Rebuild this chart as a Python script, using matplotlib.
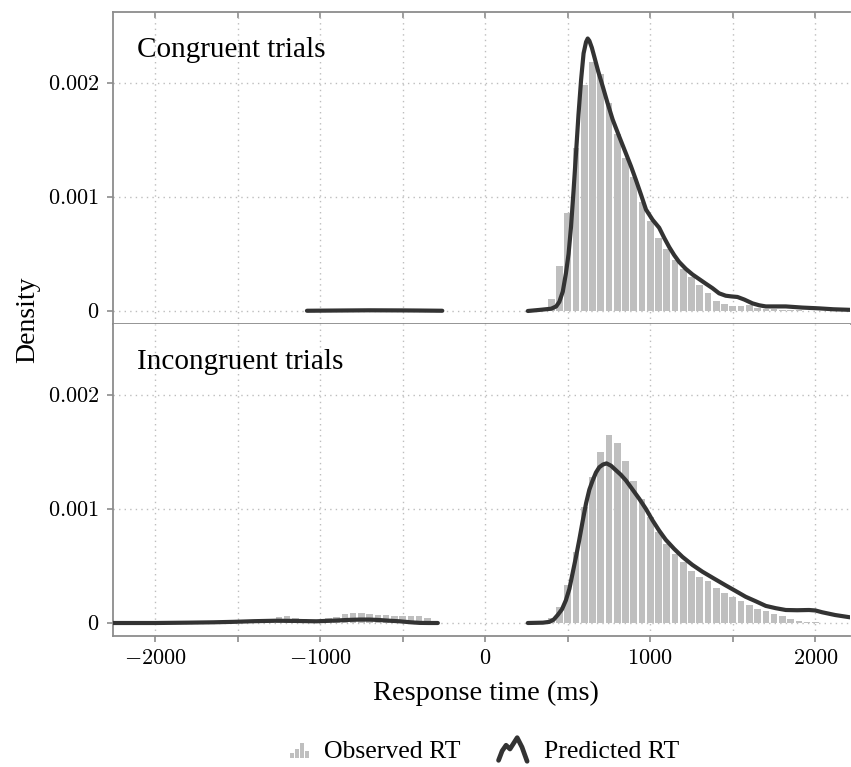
import numpy as np
import matplotlib.pyplot as plt
from matplotlib.patches import Rectangle
from matplotlib.lines import Line2D
from matplotlib.legend_handler import HandlerBase

plt.rcParams['font.family'] = ['Liberation Serif', 'DejaVu Serif']
plt.rcParams['mathtext.fontset'] = 'cm'

# Observed RT histograms (bin centres in ms, density)
cong_bins = [-400, -350, 400, 450, 500, 550, 600, 650, 700, 750, 800, 850, 900, 950, 1000,
             1050, 1100, 1150, 1200, 1250, 1300, 1350, 1400, 1450, 1500, 1550, 1600,
             1650, 1700, 1750, 1800, 1850, 1900]
cong_obs = [0.000008, 0.000008, 0.000105, 0.000397, 0.000857, 0.001433, 0.00198, 0.002187,
            0.002079, 0.001822, 0.00155, 0.001345, 0.001178, 0.000959, 0.00079, 0.000637,
            0.000541, 0.000447, 0.000371, 0.000301, 0.000228, 0.000155, 0.000091, 0.000058,
            0.000047, 0.000047, 0.00005, 0.00003, 0.00002, 0.000015, 0.00001, 0.000008,
            0.000005]

incong_bins = [-1400, -1350, -1300, -1250, -1200, -1150, -1100, -1050, -1000, -950, -900,
               -850, -800, -750, -700, -650, -600, -550, -500, -450, -400, -350, -300,
               400, 450, 500, 550, 600, 650, 700, 750, 800, 850, 900, 950, 1000, 1050,
               1100, 1150, 1200, 1250, 1300, 1350, 1400, 1450, 1500, 1550, 1600, 1650,
               1700, 1750, 1800, 1850, 1900, 1950, 2000]
incong_obs = [0.00001, 0.00002, 0.00003, 0.000052, 0.000059, 0.000047, 0.000035, 0.00003,
              0.00003, 0.000047, 0.000052, 0.000076, 0.00009, 0.00009, 0.000082, 0.000073,
              0.000067, 0.00006, 0.00006, 0.00006, 0.00006, 0.000047, 0.00001,
              0.00004, 0.000137, 0.00033, 0.000626, 0.00102, 0.00128, 0.0015, 0.00165,
              0.00158, 0.00142, 0.00125, 0.00109, 0.00093, 0.0008, 0.00069, 0.000605,
              0.000535, 0.000456, 0.000406, 0.000368, 0.00031, 0.00026, 0.000225,
              0.000193, 0.000155, 0.000123, 0.000102, 0.000082, 0.000058, 0.000038,
              0.00002, 0.00001, 0.000005]

# Predicted RT densities (two branches per panel: error and correct responses)
cong_pred_neg_t = [-1080, -900, -700, -500, -400, -260]
cong_pred_neg = [0.000002, 0.000004, 0.000006, 0.000005, 0.000004, 0.000002]
cong_pred_pos_t = [258, 333, 400, 430, 449, 470, 489, 505, 520, 535, 550, 565, 581, 596,
                   611, 621, 631, 646, 661, 685, 712, 740, 772, 812, 853, 883, 913, 944,
                   974, 1014, 1054, 1085, 1115, 1145, 1175, 1215, 1256, 1296, 1336, 1377,
                   1417, 1457, 1490, 1528, 1570, 1619, 1660, 1700, 1760, 1821, 1920,
                   2022, 2110, 2210]
cong_pred_pos = [0.0, 0.00001, 0.00002, 0.00004, 0.00008, 0.00017, 0.00033, 0.0005,
                 0.00074, 0.00105, 0.00138, 0.00172, 0.00203, 0.00226, 0.00236, 0.00239,
                 0.00237, 0.00231, 0.00223, 0.0021, 0.00197, 0.00183, 0.00168, 0.00153,
                 0.00138, 0.00127, 0.00115, 0.00102, 0.00089, 0.0008, 0.00073, 0.00064,
                 0.00056, 0.00049, 0.00043, 0.00037, 0.00032, 0.00028, 0.00024, 0.0002,
                 0.000155, 0.000134, 0.000128, 0.000123, 0.0001, 0.000067, 0.00005,
                 0.00004, 0.00004, 0.00004, 0.00003, 0.000023, 0.000015, 0.00001]

incong_pred_neg_t = [-2260, -2000, -1800, -1650, -1528, -1400, -1264, -1150, -1022, -900,
                     -830, -760, -700, -640, -580, -519, -450, -397, -340, -287]
incong_pred_neg = [0.0, 0.0, 0.000003, 0.000006, 0.00001, 0.000016, 0.00002, 0.000018,
                   0.000015, 0.000022, 0.000027, 0.00003, 0.00003, 0.000026, 0.00002,
                   0.000015, 0.000006, 0.000001, 0.0, 0.0]
incong_pred_pos_t = [258, 350, 389, 415, 439, 465, 489, 510, 530, 550, 570, 590, 611, 631,
                     651, 671, 691, 713, 735, 762, 792, 822, 853, 893, 933, 974, 1014,
                     1054, 1094, 1145, 1195, 1255, 1316, 1386, 1457, 1518, 1578, 1640,
                     1700, 1760, 1821, 1890, 1962, 2000, 2042, 2120, 2210]
incong_pred_pos = [0.0, 0.000003, 0.00001, 0.00003, 0.00007, 0.00012, 0.0002, 0.0003,
                   0.00044, 0.00058, 0.00073, 0.00089, 0.00105, 0.00117, 0.00125, 0.00132,
                   0.001366, 0.00139, 0.0014, 0.00138, 0.00134, 0.0013, 0.00125, 0.00117,
                   0.00109, 0.001, 0.0009, 0.00081, 0.00073, 0.00065, 0.00058, 0.00051,
                   0.00045, 0.00039, 0.00033, 0.00028, 0.00023, 0.00019, 0.00015, 0.00013,
                   0.000114, 0.000112, 0.000114, 0.00011, 0.000094, 0.00007, 0.00005]

panel_titles = ['Congruent trials', 'Incongruent trials']
y_ticks = [0, 0.001, 0.002]
y_ticklabels = ['$0$', '$0.001$', '$0.002$']
x_ticks = np.arange(-2000, 2001, 500)
x_ticklabels = ['$%d$' % v if v % 1000 == 0 else '' for v in x_ticks]

bar_color = '#bfbfbf'
line_color = '#333333'
spine_color = '#8c8c8c'
grid_color = '#bdbdbd'


class HandlerBars(HandlerBase):
    def create_artists(self, legend, orig_handle, xdescent, ydescent, width, height,
                       fontsize, trans):
        hs = [0.3, 0.55, 0.85, 0.4]
        bw = width * 0.1
        gap = width * 0.05
        x0 = -xdescent + width * 0.4
        arts = []
        for i, h in enumerate(hs):
            r = Rectangle((x0 + i * (bw + gap), -ydescent), bw, height * h,
                          facecolor=bar_color, edgecolor='none', transform=trans)
            arts.append(r)
        return arts


class HandlerPeak(HandlerBase):
    def create_artists(self, legend, orig_handle, xdescent, ydescent, width, height,
                       fontsize, trans):
        px = np.array([0.0, 0.12, 0.25, 0.38, 0.5, 0.62, 0.78, 0.95])
        py = np.array([-0.1, 0.4, 0.7, 0.5, 0.8, 1.1, 0.6, -0.15])
        ln = Line2D(-xdescent + width * 0.05 + px * width * 0.9,
                    -ydescent + py * height * 1.05,
                    color=line_color, lw=3.4, solid_capstyle='round',
                    solid_joinstyle='round', transform=trans)
        return [ln]


fig = plt.figure(figsize=(8.51, 7.67), dpi=100)
ax1 = fig.add_axes([0.1328, 0.5776, 0.866, 0.4068])
ax2 = fig.add_axes([0.1328, 0.1708, 0.866, 0.4068])

panels = [
    (ax1, cong_bins, cong_obs, [(cong_pred_neg_t, cong_pred_neg),
                                (cong_pred_pos_t, cong_pred_pos)]),
    (ax2, incong_bins, incong_obs, [(incong_pred_neg_t, incong_pred_neg),
                                    (incong_pred_pos_t, incong_pred_pos)]),
]

for i, (ax, bins, obs, preds) in enumerate(panels):
    ax.bar(bins, obs, width=40, color=bar_color, edgecolor='none', zorder=2)
    for t, d in preds:
        ax.plot(t, d, color=line_color, lw=3.0, solid_capstyle='round',
                solid_joinstyle='round', zorder=3)
    ax.set_xlim(-2255, 2210)
    ax.set_ylim(-0.000114, 0.002623)
    ax.set_yticks(y_ticks)
    ax.set_yticklabels(y_ticklabels)
    ax.set_xticks(x_ticks)
    if i == 1:
        ax.set_xticklabels(x_ticklabels)
    else:
        ax.set_xticklabels([])
    ax.grid(True, color=grid_color, linestyle=(0, (1, 3)), lw=1.0, zorder=0)
    ax.set_axisbelow(True)
    ax.spines['right'].set_visible(False)
    ax.spines['top'].set_visible(i == 0)
    for s in ['left', 'bottom', 'top']:
        ax.spines[s].set_color(spine_color)
        ax.spines[s].set_linewidth(1.3)
    ax.tick_params(axis='both', direction='out', length=4, width=1.2, color=spine_color,
                   labelsize=16, pad=6)
    ax.text(0.0326, 0.878, panel_titles[i], transform=ax.transAxes, fontsize=21,
            ha='left', va='center')

# inward ticks on the top border
sec = ax1.secondary_xaxis('top')
sec.set_xticks(x_ticks)
sec.set_xticklabels([])
sec.tick_params(direction='in', length=4, width=1.2, color=spine_color)
sec.spines['top'].set_visible(False)

fig.text(0.033, 0.583, 'Density', rotation=90, ha='center', va='center', fontsize=20)
fig.text(0.571, 0.0965, 'Response time (ms)', ha='center', va='center', fontsize=20.5)

h_obs = Rectangle((0, 0), 1, 1, color=bar_color)
h_pred = Line2D([0], [0], color=line_color, lw=3)
fig.legend([h_obs, h_pred], ['Observed RT', 'Predicted RT'],
           handler_map={Rectangle: HandlerBars(), Line2D: HandlerPeak()},
           loc='center', bbox_to_anchor=(0.562, 0.0196), ncol=2, frameon=False,
           fontsize=18.5, handlelength=1.3, handletextpad=0.55, columnspacing=1.4)

fig.savefig('out.png', dpi=100)
